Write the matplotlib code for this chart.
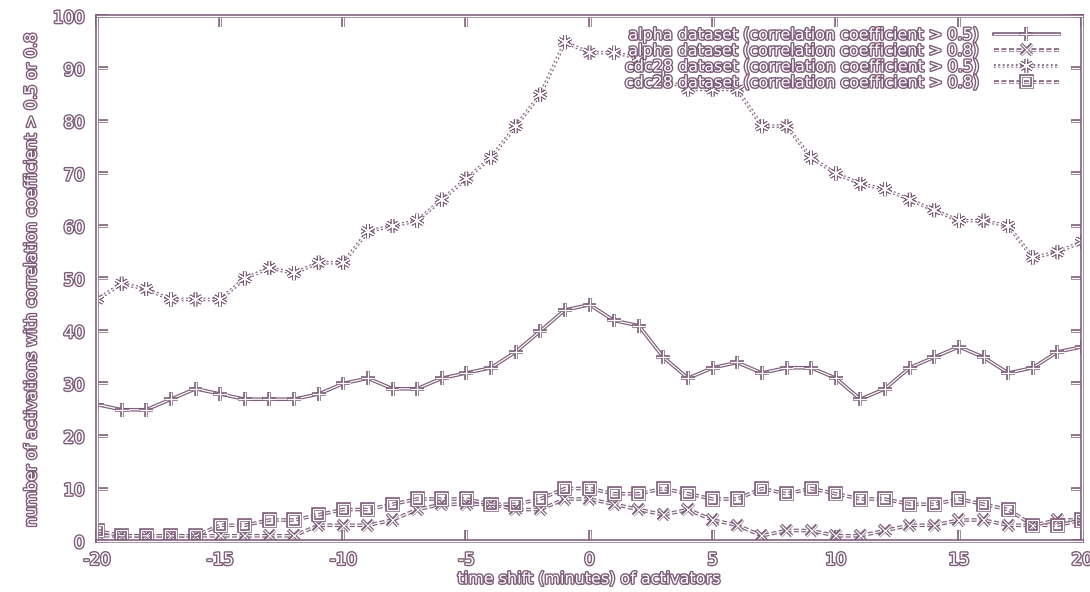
import matplotlib
matplotlib.use('Agg')
import matplotlib.pyplot as plt
import matplotlib.patheffects as pe
import numpy as np

# Data
shift = np.arange(-20, 21)
alpha_05 = [26, 25, 25, 27, 29, 28, 27, 27, 27, 28, 30, 31, 29, 29, 31, 32, 33, 36, 40, 44,
            45, 42, 41, 35, 31, 33, 34, 32, 33, 33, 31, 27, 29, 33, 35, 37, 35, 32, 33, 36, 37]
alpha_08 = [1, 1, 1, 1, 1, 1, 1, 1, 1, 3, 3, 3, 4, 6, 7, 7, 7, 6, 6, 8,
            8, 7, 6, 5, 6, 4, 3, 1, 2, 2, 1, 1, 2, 3, 3, 4, 4, 3, 3, 4, 4]
cdc28_05 = [46, 49, 48, 46, 46, 46, 50, 52, 51, 53, 53, 59, 60, 61, 65, 69, 73, 79, 85, 95,
            93, 93, 92, 88, 86, 86, 86, 79, 79, 73, 70, 68, 67, 65, 63, 61, 61, 60, 54, 55, 57]
cdc28_08 = [2, 1, 1, 1, 1, 3, 3, 4, 4, 5, 6, 6, 7, 8, 8, 8, 7, 7, 8, 10,
            10, 9, 9, 10, 9, 8, 8, 10, 9, 10, 9, 8, 8, 7, 7, 8, 7, 6, 3, 3, 4]

labels = ['alpha dataset (correlation coefficient > 0.5)',
          'alpha dataset (correlation coefficient > 0.8)',
          'cdc28 dataset (correlation coefficient > 0.5)',
          'cdc28 dataset (correlation coefficient > 0.8)']

ink = '#7d5d7a'
outline = [pe.Stroke(linewidth=2.6, foreground=ink), pe.Normal()]
text_fx = [pe.withStroke(linewidth=2.0, foreground=ink)]

plt.rcParams['font.family'] = 'DejaVu Sans'
plt.rcParams['axes.unicode_minus'] = False
fig = plt.figure(figsize=(10.9, 5.92), dpi=100)
ax = fig.add_axes([0.089, 0.0861, 0.9037, 0.887])

series = [
    (alpha_05, '-', '+', 10),
    (alpha_08, (0, (4, 2)), 'x', 8),
    (cdc28_05, (0, (1.5, 2)), (6, 2, 0), 10),
    (cdc28_08, (0, (4, 2)), 's', 8),
]
for vals, ls, mk, ms in series:
    ax.plot(shift, vals, linestyle=ls, marker=mk, markersize=ms, color='white',
            markerfacecolor='none', markeredgecolor='white', markeredgewidth=0.9,
            linewidth=0.9, path_effects=outline)

ax.set_xlim(-20, 20)
ax.set_ylim(0, 100)
ax.set_xticks(np.arange(-20, 21, 5))
ax.set_yticks(np.arange(0, 101, 10))
ax.tick_params(direction='in', length=8, width=0.9, color='white',
               top=True, right=True, labelsize=12, labelcolor='white')
ax.tick_params(axis='x', pad=7)
ax.tick_params(axis='y', pad=9)
for t in ax.xaxis.get_major_ticks() + ax.yaxis.get_major_ticks():
    t.tick1line.set_path_effects(outline)
    t.tick2line.set_path_effects(outline)
    t.label1.set_path_effects(text_fx)
for s in ax.spines.values():
    s.set_color('white')
    s.set_linewidth(1.0)
    s.set_path_effects(outline)

ax.set_xlabel('time shift (minutes) of activators', fontsize=11.5, color='white',
              path_effects=text_fx, labelpad=2)
ax.set_ylabel('number of activations with correlation coefficient > 0.5 or 0.8',
              fontsize=11.5, color='white', path_effects=text_fx, labelpad=10)

handles = ax.get_lines()
leg = ax.legend(handles, labels, loc='upper right', frameon=False, markerfirst=False,
                fontsize=11.5, handlelength=4.1, handletextpad=0.8, labelspacing=0.06,
                borderaxespad=0.2, borderpad=0.0, bbox_to_anchor=(0.98, 0.984))
for txt in leg.get_texts():
    txt.set_color('white')
    txt.set_path_effects(text_fx)

plt.savefig('out.png', dpi=100, facecolor='white')
